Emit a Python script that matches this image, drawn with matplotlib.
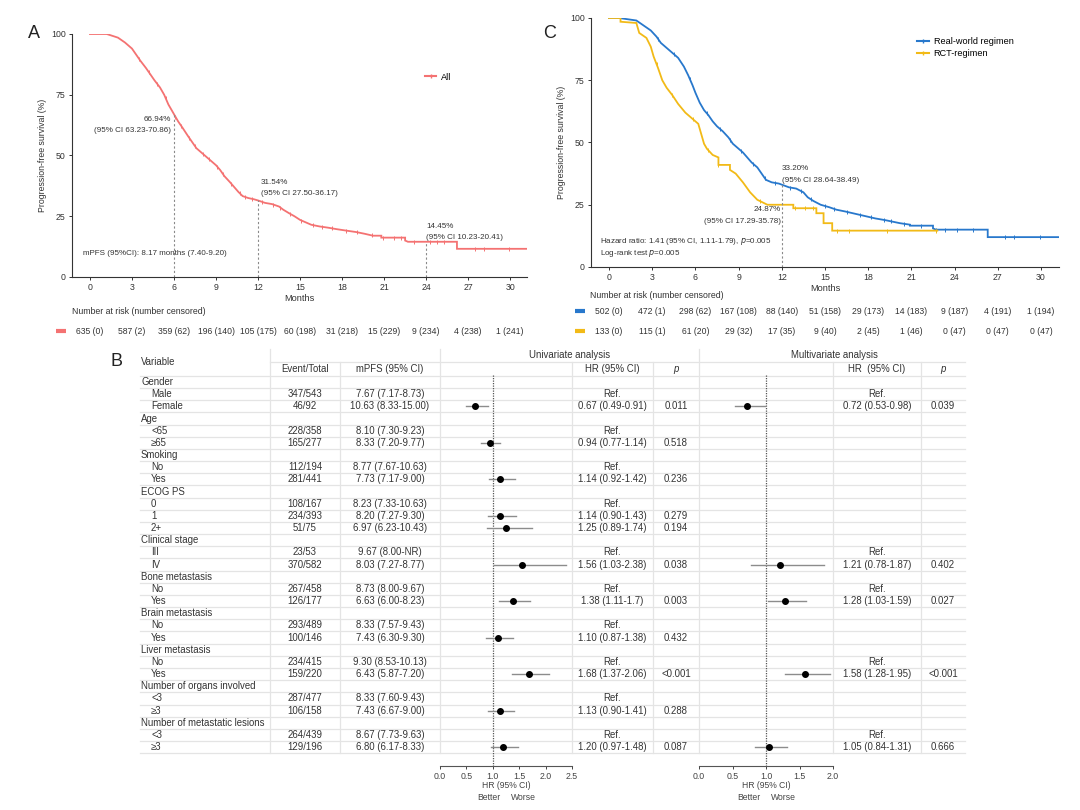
import matplotlib
matplotlib.use("Agg")
import numpy as np
import matplotlib.pyplot as plt
from matplotlib.lines import Line2D
from matplotlib.transforms import blended_transform_factory

plt.rcParams['font.family'] = ['Liberation Sans', 'DejaVu Sans']
plt.rcParams['axes.linewidth'] = 0.8

# ---------------- data: panel A (curve corners) ----------------
a_time = [0, 1.2, 2.0, 2.5, 3.0, 3.3, 3.6, 4.0, 4.3, 4.6, 5.0, 5.3, 5.6, 6.0, 6.3, 6.6,
          7.0, 7.3, 7.6, 8.0, 8.3, 8.6, 9.0, 9.3, 9.6, 10.0, 10.3, 10.6, 10.9, 11.3,
          11.7, 12.0, 12.5, 13.0, 13.5, 13.8, 14.2, 14.6, 15.0, 15.4, 15.8, 16.4,
          17.0, 17.6, 18.4, 19.0, 19.6, 20.2, 20.8, 20.8, 22.5, 22.5, 22.7, 26.2,
          26.2, 31.2]
a_surv = [100, 100, 98.5, 96.5, 94, 91.5, 89, 86, 83.5, 81, 78, 75, 71, 67, 64, 61.5,
          58, 55.5, 53, 51, 49.5, 48, 46, 44, 41.5, 39, 37, 35, 33.3, 32.5,
          32, 31.5, 30.5, 30, 29, 27.7, 26.3, 25, 23.5, 22.5, 21.5, 20.8,
          20.3, 19.7, 19, 18.5, 17.8, 17.0, 17.0, 16.2, 16.2, 15.0, 14.5, 14.5,
          11.6, 11.6]
a_cens = [3.5, 4.2, 4.8, 5.4, 6.1, 6.5, 7.1, 7.5, 8.1, 8.5, 9.1, 9.5, 10.1, 10.7,
          11.1, 11.6, 12.3, 13.1, 13.6, 14.3, 15.1, 15.9, 16.6, 17.3, 18.3, 19.1,
          20.1, 20.9, 21.7, 22.2, 23.1, 24.3, 24.8, 25.3, 27.5, 28.1, 29.9]
a_mark_t = [6, 12, 24]
a_mark_s = [66.94, 31.54, 14.45]
a_mark_ci = ["(95% CI 63.23-70.86)", "(95% CI 27.50-36.17)", "(95% CI 10.23-20.41)"]
a_risk = ["635 (0)", "587 (2)", "359 (62)", "196 (140)", "105 (175)", "60 (198)",
          "31 (218)", "15 (229)", "9 (234)", "4 (238)", "1 (241)"]

# ---------------- data: panel C ----------------
rw_time = [0, 0.7, 1.9, 2.4, 2.9, 3.3, 3.6, 3.9, 4.3, 4.8, 5.2, 5.5, 5.8, 6.0, 6.3,
           6.6, 6.9, 7.2, 7.5, 7.9, 8.3, 8.6, 8.9, 9.3, 9.6, 9.9, 10.3, 10.6, 10.9,
           11.3, 11.8, 12.5, 13.0, 13.5, 13.8, 14.2, 14.7, 15.3, 15.8, 16.4, 17.0,
           17.9, 18.5, 19.2, 20.2, 20.9, 20.9, 22.5, 22.5, 22.7, 26.3, 26.3, 31.2]
rw_surv = [100, 100, 99, 97, 95, 92.5, 90, 88.5, 86.5, 84, 80.5, 77, 73, 70, 66,
           63, 61, 58.5, 56.5, 54.5, 52, 49.5, 48, 46, 44, 42, 40, 37.5, 35,
           34, 33.5, 32, 31.5, 30, 28, 26.5, 25, 24, 23, 22.3, 21.5,
           20.3, 19.5, 18.8, 17.6, 17.0, 16.6, 16.6, 15.5, 15.0, 15.0, 12.0, 12.0]
rw_cens = [3.4, 4.5, 5.6, 6.8, 7.7, 8.4, 9.2, 10.0, 10.8, 11.5, 12.6, 13.3, 14.0,
           15.0, 15.6, 16.5, 17.4, 18.2, 19.1, 19.6, 20.5, 21.7, 22.7, 23.3, 24.2,
           25.3, 27.5, 28.1, 29.9]
rct_time = [0, 0.8, 0.8, 1.9, 2.1, 2.6, 2.9, 3.1, 3.4, 3.7, 4.0, 4.4, 4.8, 5.3, 5.7,
            6.2, 6.4, 6.6, 6.8, 7.2, 7.6, 7.6, 8.4, 8.4, 8.8, 9.3, 9.8, 10.3, 11.0,
            12.8, 12.8, 14.4, 14.4, 14.9, 14.9, 15.5, 15.5, 22.8]
rct_surv = [100, 100, 98.5, 98, 94, 92, 88.5, 84.5, 80, 75, 72, 69, 65.5, 62, 60,
            57.5, 53.5, 49.5, 47.5, 45, 44, 41, 41, 39, 37.5, 34, 30, 27, 25,
            25, 23.6, 23.6, 21.6, 21.6, 17.6, 17.6, 14.6, 14.6]
rct_cens = [3.3, 4.4, 5.8, 6.9, 7.6, 10.5, 12.9, 13.6, 14.2, 15.8, 16.7, 19.3, 22.7]
c_mark_rw = 33.20
risk_times = [0, 3, 6, 9, 12, 15, 18, 21, 24, 27, 30]
rw_risk = ["502 (0)", "472 (1)", "298 (62)", "167 (108)", "88 (140)", "51 (158)",
           "29 (173)", "14 (183)", "9 (187)", "4 (191)", "1 (194)"]
rct_risk = ["133 (0)", "115 (1)", "61 (20)", "29 (32)", "17 (35)", "9 (40)",
            "2 (45)", "1 (46)", "0 (47)", "0 (47)", "0 (47)"]

# ---------------- data: panel B (forest) ----------------
groups = ["Gender", "Age", "Smoking", "ECOG PS", "Clinical stage", "Bone metastasis",
          "Brain metastasis", "Liver metastasis", "Number of organs involved",
          "Number of metastatic lesions"]
levels = [["Male", "Female"], ["<65", "≥65"], ["No", "Yes"], ["0", "1", "2+"],
          ["III", "IV"], ["No", "Yes"], ["No", "Yes"], ["No", "Yes"], ["<3", "≥3"],
          ["<3", "≥3"]]
events = ["347/543", "46/92", "228/358", "165/277", "112/194", "281/441", "108/167",
          "234/393", "51/75", "23/53", "370/582", "267/458", "126/177", "293/489",
          "100/146", "234/415", "159/220", "287/477", "106/158", "264/439", "129/196"]
mpfs = ["7.67 (7.17-8.73)", "10.63 (8.33-15.00)", "8.10 (7.30-9.23)", "8.33 (7.20-9.77)",
        "8.77 (7.67-10.63)", "7.73 (7.17-9.00)", "8.23 (7.33-10.63)", "8.20 (7.27-9.30)",
        "6.97 (6.23-10.43)", "9.67 (8.00-NR)", "8.03 (7.27-8.77)", "8.73 (8.00-9.67)",
        "6.63 (6.00-8.23)", "8.33 (7.57-9.43)", "7.43 (6.30-9.30)", "9.30 (8.53-10.13)",
        "6.43 (5.87-7.20)", "8.33 (7.60-9.43)", "7.43 (6.67-9.00)", "8.67 (7.73-9.63)",
        "6.80 (6.17-8.33)"]
uni_hr = [None, 0.67, None, 0.94, None, 1.14, None, 1.14, 1.25, None, 1.56, None, 1.38,
          None, 1.10, None, 1.68, None, 1.13, None, 1.20]
uni_lo = [None, 0.49, None, 0.77, None, 0.92, None, 0.90, 0.89, None, 1.03, None, 1.11,
          None, 0.87, None, 1.37, None, 0.90, None, 0.97]
uni_hi = [None, 0.91, None, 1.14, None, 1.42, None, 1.43, 1.74, None, 2.38, None, 1.70,
          None, 1.38, None, 2.06, None, 1.41, None, 1.48]
uni_txt = ["Ref.", "0.67 (0.49-0.91)", "Ref.", "0.94 (0.77-1.14)", "Ref.", "1.14 (0.92-1.42)",
           "Ref.", "1.14 (0.90-1.43)", "1.25 (0.89-1.74)", "Ref.", "1.56 (1.03-2.38)",
           "Ref.", "1.38 (1.11-1.7)", "Ref.", "1.10 (0.87-1.38)", "Ref.", "1.68 (1.37-2.06)",
           "Ref.", "1.13 (0.90-1.41)", "Ref.", "1.20 (0.97-1.48)"]
uni_p = ["", "0.011", "", "0.518", "", "0.236", "", "0.279", "0.194", "", "0.038", "",
         "0.003", "", "0.432", "", "<0.001", "", "0.288", "", "0.087"]
multi_hr = [None, 0.72, None, None, None, None, None, None, None, None, 1.21, None, 1.28,
            None, None, None, 1.58, None, None, None, 1.05]
multi_lo = [None, 0.53, None, None, None, None, None, None, None, None, 0.78, None, 1.03,
            None, None, None, 1.28, None, None, None, 0.84]
multi_hi = [None, 0.98, None, None, None, None, None, None, None, None, 1.87, None, 1.59,
            None, None, None, 1.95, None, None, None, 1.31]
multi_txt = ["Ref.", "0.72 (0.53-0.98)", "", "", "", "", "", "", "", "Ref.", "1.21 (0.78-1.87)",
             "Ref.", "1.28 (1.03-1.59)", "", "", "Ref.", "1.58 (1.28-1.95)", "", "", "Ref.",
             "1.05 (0.84-1.31)"]
multi_p = ["", "0.039", "", "", "", "", "", "", "", "", "0.402", "", "0.027", "", "", "",
           "<0.001", "", "", "", "0.666"]

RED = "#F47272"
BLUE = "#2878CC"
YEL = "#F2BA17"
TXT = "#333333"

fig = plt.figure(figsize=(10.8, 8.1), dpi=100)


def px_axes(x0, y0, x1, y1):
    return fig.add_axes([x0 / 1080, 1 - y1 / 810, (x1 - x0) / 1080, (y1 - y0) / 810])


def style_km(ax):
    ax.set_xlim(-1.28, 31.2)
    ax.set_ylim(0, 100)
    ax.set_xticks(risk_times)
    ax.set_yticks([0, 25, 50, 75, 100])
    for s in ["top", "right"]:
        ax.spines[s].set_visible(False)
    for s in ["left", "bottom"]:
        ax.spines[s].set_color("#333333")
    ax.tick_params(labelsize=6.3, length=2.5, width=0.7, colors="#333333", pad=2)
    ax.set_xlabel("Months", fontsize=6.6, color=TXT, labelpad=1)
    ax.set_ylabel("Progression-free survival (%)", fontsize=6.3, color=TXT, labelpad=3)


def km(ax, t, s, cens, color):
    ax.plot(t, s, color=color, lw=1.3, solid_joinstyle="miter")
    ax.plot(cens, np.interp(cens, t, s), ls="none", marker="|", ms=3.5, mew=0.7,
            color=color)


# overlay in pixel units for table text and lines
tab = fig.add_axes([0, 0, 1, 1])
tab.set_xlim(0, 1080)
tab.set_ylim(810, 0)
tab.axis("off")

# ---------------- panel A ----------------
axA = px_axes(72, 34, 527, 277)
style_km(axA)
km(axA, a_time, a_surv, a_cens, RED)
for t, s in zip(a_mark_t, a_mark_s):
    axA.plot([t, t], [0, s], color="#8a8a8a", lw=0.8, ls=(0, (2, 2)))
axA.text(5.8, 64.0, "66.94%", ha="right", fontsize=5.8, color=TXT)
axA.text(5.8, 59.6, a_mark_ci[0], ha="right", fontsize=5.8, color=TXT)
axA.text(12.2, 38.2, "31.54%", ha="left", fontsize=5.8, color=TXT)
axA.text(12.2, 33.8, a_mark_ci[1], ha="left", fontsize=5.8, color=TXT)
axA.text(24.0, 20.0, "14.45%", ha="left", fontsize=5.8, color=TXT)
axA.text(24.0, 15.6, a_mark_ci[2], ha="left", fontsize=5.8, color=TXT)
axA.text(-0.5, 9.5, "mPFS (95%CI): 8.17 months (7.40-9.20)", fontsize=5.8,
         color=TXT, va="center")
axA.legend(handles=[Line2D([], [], color=RED, lw=1.5, marker="|", ms=3)], labels=["All"],
           loc="center left", bbox_to_anchor=(425 / 1080, 1 - 77 / 810),
           bbox_transform=fig.transFigure, frameon=False, fontsize=6.6,
           handlelength=1.2, handletextpad=0.5, borderpad=0, borderaxespad=0)
fig.text(34 / 1080, 1 - 34 / 810, "A", fontsize=13, va="center", ha="center", color="#222")

trA = blended_transform_factory(axA.transData, tab.transData)
tab.text(72, 312, "Number at risk (number censored)", fontsize=6.3, color=TXT, va="center")
tab.plot([56, 66], [331, 331], color=RED, lw=3, solid_capstyle="butt")
for t, lab in zip(risk_times, a_risk):
    tab.text(t, 331, lab, transform=trA, ha="center", va="center", fontsize=6.2, color=TXT)

# ---------------- panel C ----------------
axC = px_axes(591, 18, 1059, 267)
style_km(axC)
axC.set_xlim(-1.25, 31.25)
km(axC, rw_time, rw_surv, rw_cens, BLUE)
km(axC, rct_time, rct_surv, rct_cens, YEL)
axC.plot([12, 12], [0, c_mark_rw], color="#8a8a8a", lw=0.8, ls=(0, (2, 2)))
axC.text(12.0, 38.9, "33.20%", ha="left", fontsize=5.8, color=TXT)
axC.text(12.0, 34.1, "(95% CI 28.64-38.49)", ha="left", fontsize=5.8, color=TXT)
axC.text(11.95, 22.4, "24.87%", ha="right", fontsize=5.8, color=TXT)
axC.text(11.95, 17.6, "(95% CI 17.29-35.78)", ha="right", fontsize=5.8, color=TXT)
axC.text(-0.64, 10.4, "Hazard ratio: 1.41 (95% CI, 1.11-1.79), $p$=0.005", fontsize=5.8,
         color=TXT, va="center")
axC.text(-0.64, 5.6, "Log-rank test $p$=0.005", fontsize=5.8, color=TXT, va="center")
axC.legend(handles=[Line2D([], [], color=BLUE, lw=1.5, marker="|", ms=3),
                    Line2D([], [], color=YEL, lw=1.5, marker="|", ms=3)],
           labels=["Real-world regimen", "RCT-regimen"],
           loc="upper left", bbox_to_anchor=(917 / 1080, 1 - 37 / 810),
           bbox_transform=fig.transFigure, frameon=False, fontsize=6.6,
           handlelength=1.3, handletextpad=0.5, labelspacing=0.35, borderpad=0,
           borderaxespad=0)
fig.text(550 / 1080, 1 - 33 / 810, "C", fontsize=13, va="center", ha="center", color="#222")

trC = blended_transform_factory(axC.transData, tab.transData)
tab.text(590, 295, "Number at risk (number censored)", fontsize=6.3, color=TXT, va="center")
tab.plot([575, 585], [311, 311], color=BLUE, lw=3, solid_capstyle="butt")
tab.plot([575, 585], [331, 331], color=YEL, lw=3, solid_capstyle="butt")
for t, l1, l2 in zip(risk_times, rw_risk, rct_risk):
    tab.text(t, 311, l1, transform=trC, ha="center", va="center", fontsize=6.2, color=TXT)
    tab.text(t, 331, l2, transform=trC, ha="center", va="center", fontsize=6.2, color=TXT)

# ---------------- panel B ----------------
ROW0, DY = 382, 12.17
GRID = "#e4e4e4"
fig.text(117 / 1080, 1 - 362 / 810, "B", fontsize=13, va="center", ha="center", color="#222")

# table grid
n_rows = sum(1 + len(l) for l in levels)
last_y = ROW0 + DY * (n_rows - 1) + DY / 2
for i in range(n_rows):
    yb = ROW0 + DY * i + DY / 2
    tab.plot([140, 965], [yb, yb], color=GRID, lw=0.9)
tab.plot([140, 965], [ROW0 - DY / 2, ROW0 - DY / 2], color=GRID, lw=0.9)
tab.plot([270, 965], [362, 362], color=GRID, lw=0.9)
for x, y0 in [(270, 349), (340, 362), (440, 349), (572, 362), (653, 362), (699, 349),
              (833, 362), (921, 362)]:
    tab.plot([x, x], [y0, last_y], color=GRID, lw=0.9)

fs = 6.9
tab.text(141, 362, "Variable", fontsize=fs, va="center", color=TXT)
tab.text(305, 369, "Event/Total", fontsize=fs, va="center", ha="center", color=TXT)
tab.text(390, 369, "mPFS (95% CI)", fontsize=fs, va="center", ha="center", color=TXT)
tab.text(570, 355, "Univariate analysis", fontsize=fs, va="center", ha="center", color=TXT)
tab.text(612, 369, "HR (95% CI)", fontsize=fs, va="center", ha="center", color=TXT)
tab.text(676, 369, "p", fontsize=fs, va="center", ha="center", color=TXT, style="italic")
tab.text(834, 355, "Multivariate analysis", fontsize=fs, va="center", ha="center", color=TXT)
tab.text(877, 369, "HR  (95% CI)", fontsize=fs, va="center", ha="center", color=TXT)
tab.text(943, 369, "p", fontsize=fs, va="center", ha="center", color=TXT, style="italic")

# forest axes
ylo = (766 - ROW0) / DY
yhi = (349 - ROW0) / DY
axU = px_axes(440, 349, 572, 766)
axM = px_axes(699, 349, 833, 766)
for ax, xmax in [(axU, 2.5), (axM, 2.0)]:
    ax.set_facecolor("none")
    ax.set_xlim(0, xmax)
    ax.set_ylim(ylo, yhi)
    for s in ["top", "right", "left"]:
        ax.spines[s].set_visible(False)
    ax.spines["bottom"].set_color("#555555")
    ax.set_yticks([])
    ticks = np.arange(0, xmax + 0.01, 0.5)
    ax.set_xticks(ticks)
    ax.set_xticklabels(["%.1f" % v for v in ticks])
    ax.tick_params(labelsize=6.3, length=2.5, width=0.7, colors="#444444", pad=2)
    ax.plot([1, 1], [(375 - ROW0) / DY, ylo], color="#555555", lw=0.9, ls=(0, (1, 1)))

row = 0
k = 0
for g, levs in zip(groups, levels):
    yg = ROW0 + DY * row
    tab.text(141, yg, g, fontsize=fs, va="center", color=TXT)
    row += 1
    for lev in levs:
        y = ROW0 + DY * row
        tab.text(151, y, lev, fontsize=fs, va="center", color=TXT)
        tab.text(305, y, events[k], fontsize=fs, va="center", ha="center", color=TXT)
        tab.text(390, y, mpfs[k], fontsize=fs, va="center", ha="center", color=TXT)
        tab.text(612, y, uni_txt[k], fontsize=fs, va="center", ha="center", color=TXT)
        tab.text(676, y, uni_p[k], fontsize=fs, va="center", ha="center", color=TXT)
        tab.text(877, y, multi_txt[k], fontsize=fs, va="center", ha="center", color=TXT)
        tab.text(943, y, multi_p[k], fontsize=fs, va="center", ha="center", color=TXT)
        if uni_hr[k] is not None:
            axU.plot([uni_lo[k], uni_hi[k]], [row, row], color="#8c8c8c", lw=1.0)
            axU.plot([uni_hr[k]], [row], "o", color="black", ms=4)
        if multi_hr[k] is not None:
            axM.plot([multi_lo[k], multi_hi[k]], [row, row], color="#8c8c8c", lw=1.0)
            axM.plot([multi_hr[k]], [row], "o", color="black", ms=4)
        row += 1
        k += 1

for cx in [506, 766]:
    tab.text(cx, 786, "HR (95% CI)", fontsize=6.2, ha="center", va="center", color="#444")
    tab.text(cx - 5, 797, "Better", fontsize=6.2, ha="right", va="center", color="#444")
    tab.text(cx + 5, 797, "Worse", fontsize=6.2, ha="left", va="center", color="#444")

fig.savefig("out.png", dpi=100)
